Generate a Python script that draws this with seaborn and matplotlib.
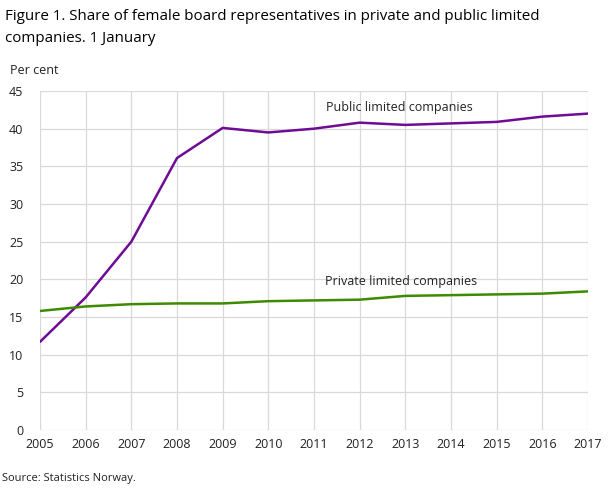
import seaborn as sns
import pandas as pd
from matplotlib import pyplot as plt

years = list(range(2005, 2018))
public_ltd = [11.7, 17.6, 25.0, 36.1, 40.1, 39.5, 40.0, 40.8, 40.5, 40.7, 40.9, 41.6, 42.0]
private_ltd = [15.8, 16.4, 16.7, 16.8, 16.8, 17.1, 17.2, 17.3, 17.8, 17.9, 18.0, 18.1, 18.4]
y_ticks = [0, 5, 10, 15, 20, 25, 30, 35, 40, 45]

df = pd.DataFrame({'year': years * 2,
                   'share': public_ltd + private_ltd,
                   'type': ['Public limited companies'] * 13 + ['Private limited companies'] * 13})

sns.set_style('white')
plt.rcParams['font.family'] = ['Open Sans', 'DejaVu Sans']

fig = plt.figure(figsize=(6.09, 4.88), dpi=100)
ax = fig.add_axes([0.0657, 0.1189, 0.8998, 0.6946])

sns.lineplot(data=df, x='year', y='share', hue='type',
             palette={'Public limited companies': '#6e0c96', 'Private limited companies': '#3e8a00'},
             linewidth=1.8, legend=False, ax=ax)

ax.set_xlim(2005, 2017)
ax.set_ylim(0, 45)
ax.set_xticks(years)
ax.set_yticks(y_ticks)
ax.grid(True, color='#d9d9d9', linewidth=0.9)
ax.set_axisbelow(True)
for s in ax.spines.values():
    s.set_visible(False)
ax.tick_params(length=0, labelsize=9, colors='#222222')
ax.tick_params(axis='x', pad=6)
ax.tick_params(axis='y', pad=12)
ax.set_xlabel('')
ax.set_ylabel('')

ax.text(2011.26, 42.8, 'Public limited companies', fontsize=9, ha='left', va='center', color='#222222')
ax.text(2011.24, 19.7, 'Private limited companies', fontsize=9, ha='left', va='center', color='#222222')

fig.text(5 / 609, 1 - 17 / 488, 'Figure 1. Share of female board representatives in private and public limited',
         fontsize=10.9, va='center', ha='left', color='#000000')
fig.text(5 / 609, 1 - 38 / 488, 'companies. 1 January',
         fontsize=10.9, va='center', ha='left', color='#000000')
fig.text(10 / 609, 1 - 70 / 488, 'Per cent', fontsize=9, va='center', ha='left', color='#222222')
fig.text(2 / 609, 1 - 478 / 488, 'Source: Statistics Norway.', fontsize=8,
         va='center', ha='left', color='#222222')

plt.savefig('out.png', dpi=100)
